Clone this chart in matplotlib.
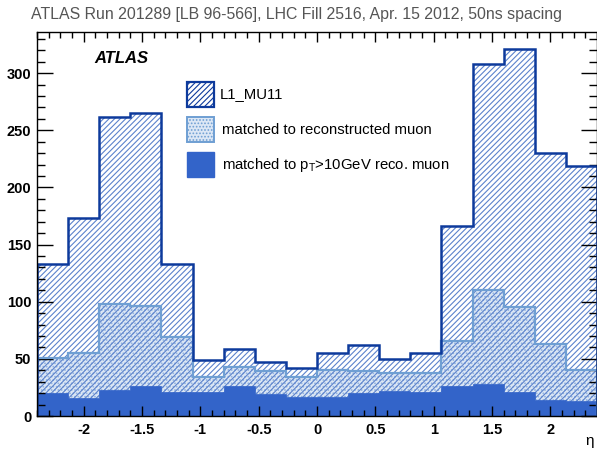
import matplotlib
matplotlib.use("Agg")
import matplotlib.pyplot as plt
import numpy as np
from matplotlib.ticker import MultipleLocator, FormatStrFormatter
from matplotlib.patches import Rectangle

plt.rcParams['font.family'] = ['Liberation Sans', 'DejaVu Sans']
plt.rcParams['hatch.linewidth'] = 0.8

# eta bins, 18 bins from -2.4 to 2.4
edges = np.linspace(-2.4, 2.4, 19)
centers = 0.5 * (edges[:-1] + edges[1:])

l1_mu11 = [133, 173, 262, 265, 133, 49, 59, 47, 42, 55, 62, 50, 55, 166, 308, 321, 230, 219]
matched_reco = [51, 55, 98, 96, 69, 34, 43, 39, 34, 40, 39, 38, 38, 66, 110, 95, 63, 40]
matched_pt10 = [20, 16, 23, 26, 21, 21, 26, 19, 17, 17, 20, 22, 21, 26, 28, 21, 14, 13]

title = "ATLAS Run 201289 [LB 96-566], LHC Fill 2516, Apr. 15 2012, 50ns spacing"
labels = ["L1_MU11", "matched to reconstructed muon", "matched to p$_{\\mathregular{T}}$>10GeV reco. muon"]

dark = '#0d3a9c'
hatch_c = '#5b82cc'
mid_line = '#6f9fd3'
mid_face = '#dce7f5'
dots_c = '#8eb0de'
solid = '#3364c9'

fig = plt.figure(figsize=(5.97, 4.53), dpi=100)
ax = fig.add_axes([37 / 597, 37 / 453, 1 - 37 / 597, 384 / 453])

# middle: dotted fill
ax.hist(centers, bins=edges, weights=matched_reco, histtype='stepfilled',
        facecolor=mid_face, edgecolor=dots_c, hatch='.....', linewidth=0)
# top: hatched
ax.hist(centers, bins=edges, weights=l1_mu11, histtype='stepfilled',
        facecolor='none', edgecolor=hatch_c, hatch='//////', linewidth=0)
ax.hist(centers, bins=edges, weights=matched_reco, histtype='step',
        color=mid_line, linewidth=1.6)
ax.hist(centers, bins=edges, weights=l1_mu11, histtype='step',
        color=dark, linewidth=1.8)
# bottom: solid
ax.hist(centers, bins=edges, weights=matched_pt10, histtype='stepfilled',
        facecolor=solid, edgecolor=solid, linewidth=0.5)

ax.set_xlim(-2.4, 2.4)
ax.set_ylim(0, 336)
ax.xaxis.set_major_locator(MultipleLocator(0.5))
ax.xaxis.set_minor_locator(MultipleLocator(0.1))
ax.xaxis.set_major_formatter(FormatStrFormatter('%g'))
ax.yaxis.set_major_locator(MultipleLocator(50))
ax.yaxis.set_minor_locator(MultipleLocator(10))
ax.tick_params(axis='both', which='both', direction='in', top=True, right=True, width=1)
ax.tick_params(axis='x', which='major', length=7.5, pad=5)
ax.tick_params(axis='x', which='minor', length=4)
ax.tick_params(axis='y', which='major', length=11.5, pad=4)
ax.tick_params(axis='y', which='minor', length=6)
for lab in ax.get_xticklabels() + ax.get_yticklabels():
    lab.set_fontweight('bold')
    lab.set_fontsize(10.5)
for sp in ax.spines.values():
    sp.set_linewidth(1)
    sp.set_color('black')

fig.text(31 / 597, 1 - 14 / 453, title, fontsize=11.4, color='#555555', va='center', ha='left')
ax.text(0.103, 0.93, "ATLAS", transform=ax.transAxes, fontsize=12,
        fontweight='bold', fontstyle='italic', va='center', ha='left')

# legend drawn by hand in axes coordinates
boxes = [
    dict(facecolor='white', edgecolor=dark, hatch='//////', lw=1.6),
    dict(facecolor=mid_face, edgecolor=mid_line, hatch='.....', lw=1.4),
    dict(facecolor=solid, edgecolor=solid, hatch=None, lw=1),
]
box_y = [82, 117, 152]
for by, st, lab in zip(box_y, boxes, labels):
    x0 = (187 - 37) / 560
    w = 27 / 560
    h = 25 / 384
    y0 = (416 - by - 25) / 384
    r = Rectangle((x0, y0), w, h, transform=ax.transAxes, **st)
    ax.add_patch(r)
    ax.text((220 - 37) / 560 if lab == labels[0] else (222 - 37) / 560, y0 + h / 2, lab,
            transform=ax.transAxes, fontsize=10.7, va='center', ha='left')

# eta label sits at the far right below the axis
fig.text(585 / 597, 5 / 453, "η", fontsize=11, ha='left', va='bottom')

fig.savefig("out.png", dpi=100)
